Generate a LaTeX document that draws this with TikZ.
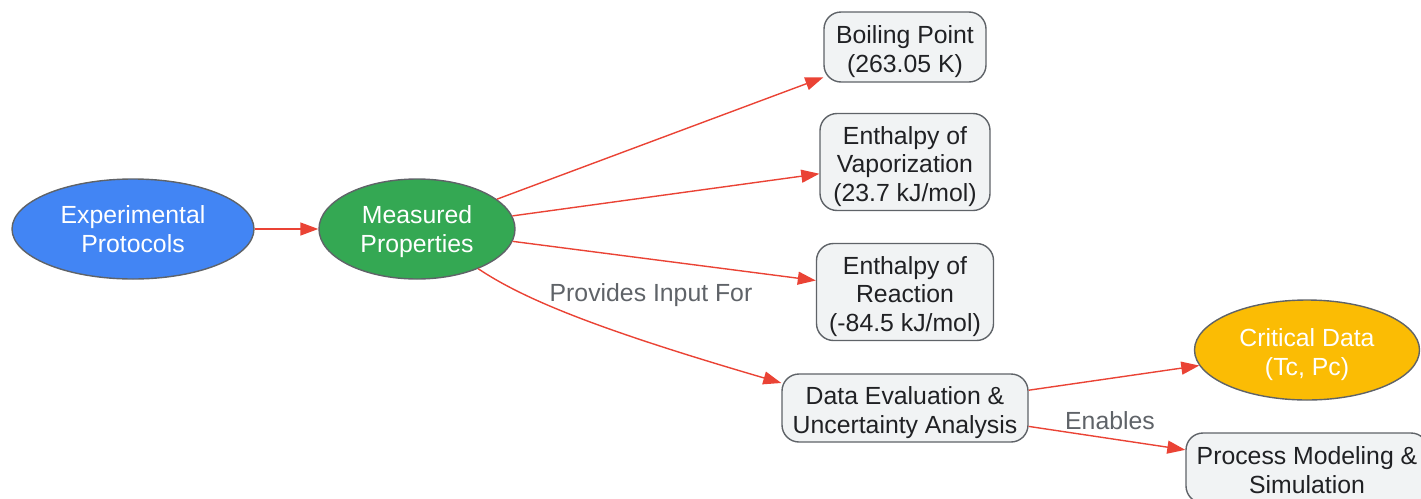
\documentclass[tikz,border=0pt]{standalone}
\usepackage{fontspec}
\setmainfont{Liberation Sans}
\usetikzlibrary{shapes.geometric,arrows.meta}
\definecolor{gblue}{HTML}{4285F4}
\definecolor{ggreen}{HTML}{34A853}
\definecolor{gyellow}{HTML}{FBBC04}
\definecolor{boxfill}{HTML}{F1F3F4}
\definecolor{bordergray}{HTML}{5F6368}
\definecolor{txtdark}{HTML}{202124}
\definecolor{arrowred}{HTML}{EA4335}
\definecolor{lblgray}{HTML}{5F6368}
\newcommand\topstrut[1]{\rule{0pt}{#1}}
\newcommand\botstrut{\rule[-6pt]{0pt}{6pt}}
\tikzset{
  base/.style={draw=bordergray, line width=1.4pt, inner sep=0pt, align=center,
    font=\fontsize{24.8}{28.5}\selectfont},
  oval/.style={base, ellipse, text=white},
  rbox/.style={base, rectangle, rounded corners=17pt, fill=boxfill, text=txtdark},
  conn/.style={draw=arrowred, line width=1.4pt, -{Triangle[length=18pt,width=13pt]}},
  lbl/.style={text=lblgray, font=\fontsize{24.8}{28}\selectfont, inner sep=0pt}
}
\begin{document}
\begin{tikzpicture}[x=1pt,y=-1pt]
\useasboundingbox (0,0) rectangle (1421,498);
\clip (0,0) rectangle (1421,498);
\node[oval, fill=gblue, minimum width=242pt, minimum height=100pt] (ep) at (133,229) {\topstrut{23.5pt}Experimental\\Protocols\botstrut};
\node[oval, fill=ggreen, minimum width=196pt, minimum height=100pt] (mp) at (417,229) {\topstrut{23.5pt}Measured\\Properties\botstrut};
\node[rbox, minimum width=162pt, minimum height=70pt] (bp) at (905,47) {\topstrut{27.5pt}Boiling Point\\(263.05 K)\botstrut};
\node[rbox, minimum width=170pt, minimum height=97pt] (ev) at (905,162) {\topstrut{27.5pt}Enthalpy of\\Vaporization\\(23.7 kJ/mol)\botstrut};
\node[rbox, minimum width=177pt, minimum height=97pt] (er) at (905,292) {\topstrut{27.5pt}Enthalpy of\\Reaction\\(-84.5 kJ/mol)\botstrut};
\node[rbox, minimum width=246pt, minimum height=68pt] (de) at (905,408) {\topstrut{27.5pt}Data Evaluation \&\\Uncertainty Analysis\botstrut};
\node[oval, fill=gyellow, minimum width=225pt, minimum height=100pt] (cd) at (1307,350) {\topstrut{27.5pt}Critical Data\\(Tc, Pc)\botstrut};
\node[rbox, minimum width=242pt, minimum height=70pt] (pm) at (1307,468) {\topstrut{27.5pt}Process Modeling \&\\Simulation\botstrut};

\draw[conn] (ep) -- (mp);
\draw[conn] (mp) -- (bp);
\draw[conn] (mp) -- (ev);
\draw[conn] (mp) -- (er);
\draw[conn] (mp.-33) .. controls (525,300) and (600,330) .. ([yshift=25pt]de.west);
\draw[conn] (de) -- (cd);
\draw[conn] (de) -- (pm);

\node[lbl] (l1) at (651,295) {Provides Input For};
\node[lbl] (l2) at (1110,421) {Enables};
\end{tikzpicture}
\end{document}
